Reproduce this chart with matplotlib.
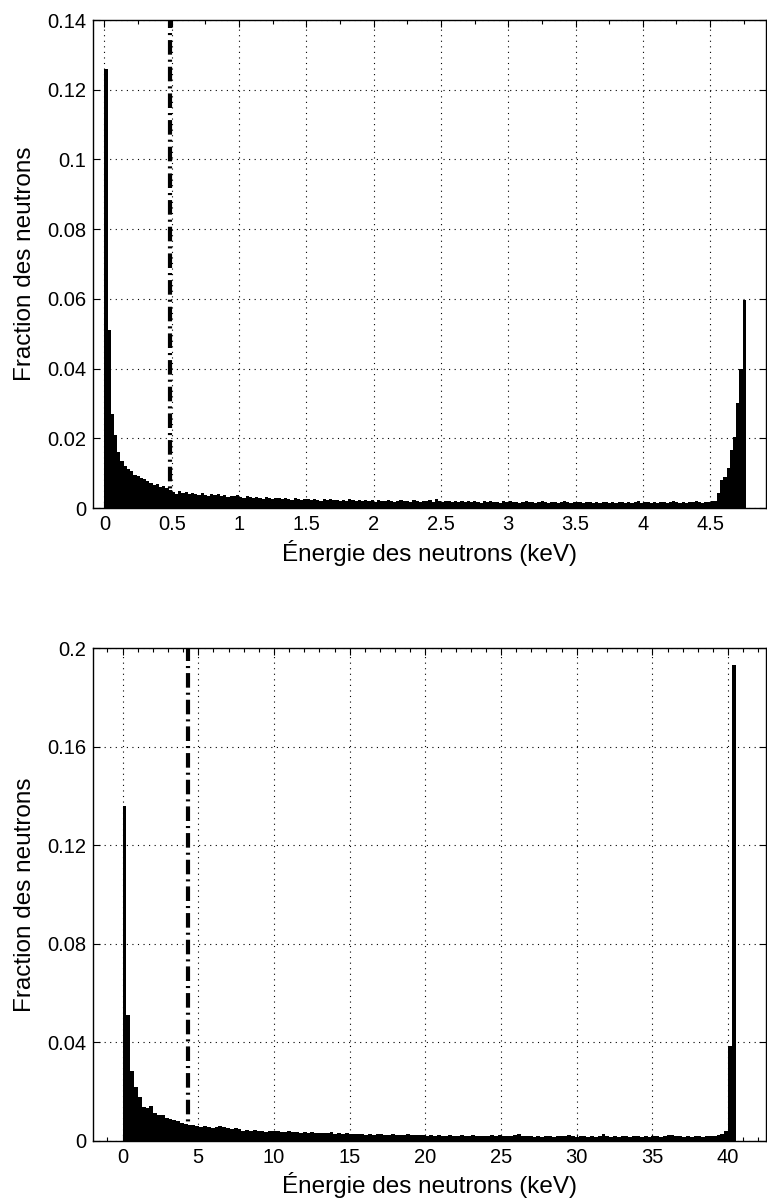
import numpy as np
import matplotlib.pyplot as plt

plt.rcParams['font.family'] = ['Liberation Sans', 'DejaVu Sans']

# --- histogramme du haut : 200 classes entre 0 et 4.765 keV
e_max_1 = 4.765
frac_1 = [
    0.1260, 0.0510, 0.0270, 0.0210, 0.0160, 0.0135, 0.0120, 0.0112, 0.0105, 0.0096,
    0.0092, 0.0087, 0.0082, 0.0077, 0.0071, 0.0066, 0.0068, 0.0061, 0.0063, 0.0056,
    0.0052, 0.0047, 0.0041, 0.0048, 0.0044, 0.0046, 0.0039, 0.0044, 0.0041, 0.0036,
    0.0043, 0.0038, 0.0035, 0.0041, 0.0037, 0.0039, 0.0034, 0.0036, 0.0031, 0.0035,
    0.0033, 0.0036, 0.0032, 0.0029, 0.0034, 0.0031, 0.0028, 0.0032, 0.0030, 0.0027,
    0.0031, 0.0029, 0.0026, 0.0030, 0.0028, 0.0025, 0.0029, 0.0027, 0.0024, 0.0028,
    0.0026, 0.0023, 0.0027, 0.0025, 0.0022, 0.0026, 0.0024, 0.0021, 0.0025, 0.0023,
    0.0027, 0.0022, 0.0024, 0.0020, 0.0023, 0.0021, 0.0025, 0.0022, 0.0019, 0.0023,
    0.0021, 0.0024, 0.0020, 0.0022, 0.0018, 0.0023, 0.0021, 0.0019, 0.0022, 0.0020,
    0.0017, 0.0021, 0.0023, 0.0019, 0.0021, 0.0018, 0.0022, 0.0020, 0.0017, 0.0021,
    0.0019, 0.0022, 0.0018, 0.0025, 0.0020, 0.0017, 0.0021, 0.0019, 0.0016, 0.0020,
    0.0018, 0.0021, 0.0017, 0.0019, 0.0016, 0.0020, 0.0018, 0.0015, 0.0019, 0.0017,
    0.0020, 0.0016, 0.0018, 0.0015, 0.0019, 0.0017, 0.0020, 0.0016, 0.0018, 0.0015,
    0.0017, 0.0019, 0.0016, 0.0018, 0.0015, 0.0017, 0.0019, 0.0016, 0.0014, 0.0017,
    0.0018, 0.0015, 0.0017, 0.0019, 0.0016, 0.0014, 0.0018, 0.0016, 0.0017, 0.0015,
    0.0018, 0.0016, 0.0014, 0.0017, 0.0015, 0.0018, 0.0016, 0.0014, 0.0017, 0.0015,
    0.0016, 0.0018, 0.0015, 0.0017, 0.0014, 0.0016, 0.0019, 0.0015, 0.0017, 0.0016,
    0.0014, 0.0017, 0.0015, 0.0018, 0.0016, 0.0014, 0.0017, 0.0019, 0.0016, 0.0015,
    0.0017, 0.0015, 0.0018, 0.0016, 0.0019, 0.0017, 0.0015, 0.0018, 0.0016, 0.0019,
    0.0020, 0.0042, 0.0080, 0.0090, 0.0114, 0.0167, 0.0204, 0.0300, 0.0400, 0.0598,
]
seuil_1 = 0.488
xticks_1 = [0, 0.5, 1, 1.5, 2, 2.5, 3, 3.5, 4, 4.5]
xticklabels_1 = ['0', '0.5', '1', '1.5', '2', '2.5', '3', '3.5', '4', '4.5']
yticks_1 = [0, 0.02, 0.04, 0.06, 0.08, 0.1, 0.12, 0.14]
yticklabels_1 = ['0', '0.02', '0.04', '0.06', '0.08', '0.1', '0.12', '0.14']

# --- histogramme du bas : 160 classes entre 0 et 40.5 keV
e_max_2 = 40.5
frac_2 = [
    0.1360, 0.0510, 0.0285, 0.0220, 0.0180, 0.0138, 0.0134, 0.0140, 0.0115, 0.0107,
    0.0107, 0.0095, 0.0090, 0.0085, 0.0080, 0.0074, 0.0070, 0.0066, 0.0063, 0.0060,
    0.0058, 0.0061, 0.0055, 0.0053, 0.0057, 0.0062, 0.0058, 0.0051, 0.0049, 0.0052,
    0.0047, 0.0041, 0.0044, 0.0040, 0.0043, 0.0039, 0.0042, 0.0038, 0.0041, 0.0039,
    0.0042, 0.0038, 0.0036, 0.0039, 0.0035, 0.0037, 0.0034, 0.0036, 0.0033, 0.0035,
    0.0032, 0.0034, 0.0031, 0.0033, 0.0035, 0.0030, 0.0032, 0.0029, 0.0031, 0.0028,
    0.0030, 0.0027, 0.0029, 0.0026, 0.0028, 0.0025, 0.0027, 0.0029, 0.0026, 0.0024,
    0.0027, 0.0025, 0.0023, 0.0026, 0.0028, 0.0024, 0.0026, 0.0023, 0.0025, 0.0022,
    0.0024, 0.0021, 0.0023, 0.0020, 0.0022, 0.0024, 0.0021, 0.0019, 0.0023, 0.0020,
    0.0022, 0.0025, 0.0021, 0.0019, 0.0022, 0.0020, 0.0023, 0.0021, 0.0026, 0.0020,
    0.0022, 0.0019, 0.0024, 0.0027, 0.0021, 0.0019, 0.0022, 0.0018, 0.0020, 0.0017,
    0.0019, 0.0021, 0.0018, 0.0020, 0.0022, 0.0019, 0.0023, 0.0020, 0.0018, 0.0021,
    0.0019, 0.0017, 0.0020, 0.0018, 0.0021, 0.0027, 0.0019, 0.0017, 0.0020, 0.0018,
    0.0021, 0.0019, 0.0017, 0.0020, 0.0022, 0.0018, 0.0020, 0.0017, 0.0019, 0.0021,
    0.0018, 0.0020, 0.0023, 0.0025, 0.0019, 0.0021, 0.0018, 0.0020, 0.0017, 0.0019,
    0.0021, 0.0018, 0.0020, 0.0022, 0.0019, 0.0024, 0.0030, 0.0042, 0.0385, 0.1930,
]
seuil_2 = 4.32
xticks_2 = [0, 5, 10, 15, 20, 25, 30, 35, 40]
xticklabels_2 = ['0', '5', '10', '15', '20', '25', '30', '35', '40']
yticks_2 = [0, 0.04, 0.08, 0.12, 0.16, 0.2]
yticklabels_2 = ['0', '0.04', '0.08', '0.12', '0.16', '0.2']

W, H = 767, 1199
fig = plt.figure(figsize=(W / 100, H / 100), dpi=100)
ax1 = fig.add_axes([93 / W, 1 - 508 / H, (766 - 93) / W, (508 - 20) / H])
ax2 = fig.add_axes([93 / W, 1 - 1141 / H, (766 - 93) / W, (1141 - 648) / H])


def trace(ax, frac, e_max, seuil, xlim, ylim, xt, xtl, yt, ytl, minor):
    bords = np.linspace(0, e_max, len(frac) + 1)
    ax.stairs(frac, bords, fill=True, color='k', lw=0)
    # seuil en trait mixte épais
    ax.axvline(seuil, color='k', lw=3.0, dashes=(3.5, 1.2, 0.5, 1.2), zorder=3)
    ax.set_xlim(*xlim)
    ax.set_ylim(*ylim)
    ax.set_xticks(xt, xtl)
    ax.set_xticks(minor, minor=True)
    ax.set_yticks(yt, ytl)
    ax.set_axisbelow(True)
    ax.grid(True, which='major', color='k', linestyle=(0, (1, 4)), linewidth=0.8)
    ax.tick_params(which='both', direction='in', top=True, right=True,
                   labelsize=14.5, pad=5, width=0.8)
    ax.tick_params(which='major', length=5)
    ax.tick_params(which='minor', length=3)
    for s in ax.spines.values():
        s.set_linewidth(1.0)
    ax.set_xlabel('Énergie des neutrons (keV)', fontsize=17.5, labelpad=4)
    ax.set_ylabel('Fraction des neutrons', fontsize=17.5, labelpad=8)


trace(ax1, frac_1, e_max_1, seuil_1, (-0.085, 4.915), (0, 0.14),
      xticks_1, xticklabels_1, yticks_1, yticklabels_1, np.arange(0, 4.9, 0.25))
trace(ax2, frac_2, e_max_2, seuil_2, (-1.955, 42.5), (0, 0.2),
      xticks_2, xticklabels_2, yticks_2, yticklabels_2, np.arange(-1, 43, 1))

fig.savefig('out.png', dpi=100)
